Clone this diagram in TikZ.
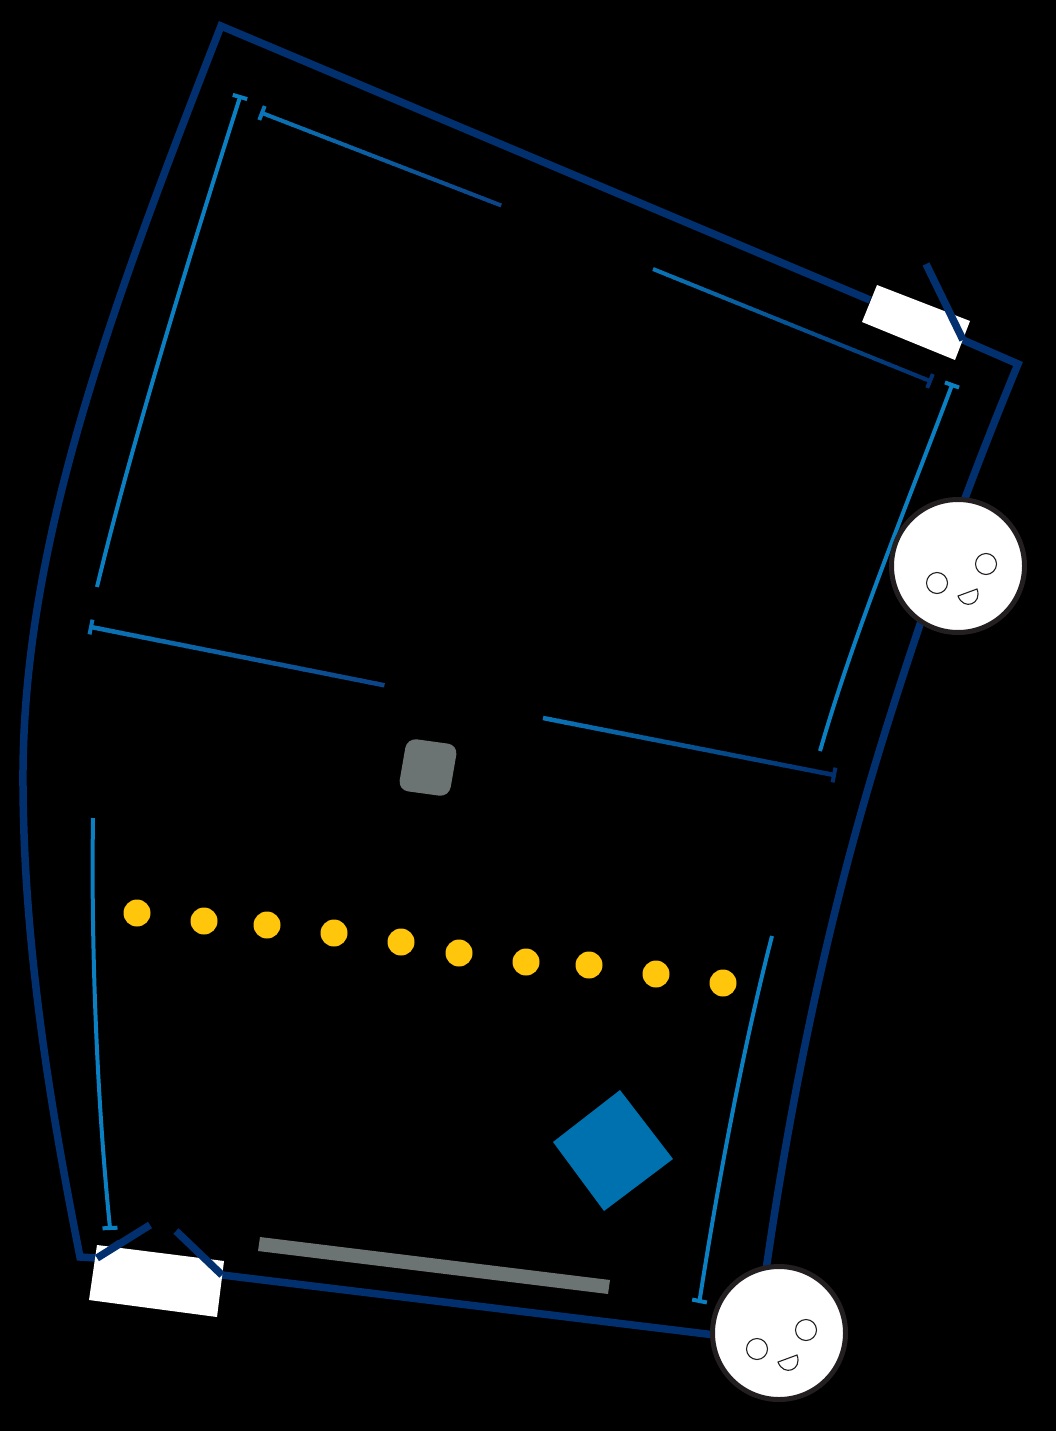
\documentclass[tikz,border=0pt]{standalone}
\usetikzlibrary{calc}
\definecolor{navy}{HTML}{02306F}
\definecolor{midnavy}{HTML}{0C4488}
\definecolor{midblue}{HTML}{0A74B6}
\definecolor{lightblue}{HTML}{0A80C2}
\definecolor{sqblue}{HTML}{0071AF}
\definecolor{greyc}{HTML}{6C7373}
\definecolor{yellowc}{HTML}{FFC60B}
\definecolor{ringc}{HTML}{231F20}
\tikzset{
  wall/.style={draw=navy,line width=7.5pt,line join=miter},
  swing/.style={draw=navy,line width=7.5pt,line cap=butt},
  doorleaf/.style={fill=white,draw=none},
  dot/.style={circle,fill=yellowc,draw=none,minimum size=27pt,inner sep=0pt},
  facering/.style={circle,fill=white,draw=ringc,line width=5pt,minimum size=133pt,inner sep=0pt},
  eye/.style={circle,fill=white,draw=ringc,line width=1.1pt,minimum size=21pt,inner sep=0pt},
  mouth/.style={fill=white,draw=ringc,line width=1.1pt},
  tickmark/.style={line width=4pt,line cap=butt},
  lightline/.style={draw=lightblue,line width=4pt,line cap=butt}
}
% start, end, start colour, end colour, line options
\newcommand{\gradbar}[5]{%
  \foreach \i in {0,...,39}{%
    \pgfmathsetmacro{\ta}{\i/40}%
    \pgfmathsetmacro{\tb}{(\i+1.2)/40}%
    \pgfmathtruncatemacro{\pc}{100-100*\i/39}%
    \draw[#5,color=#3!\pc!#4,line cap=butt] ($(#1)!\ta!(#2)$) -- ($(#1)!\tb!(#2)$);
  }}
\newcommand{\captick}[3]{% at, towards, colour
  \draw[tickmark,color=#3] ($(#1)!7.5pt!90:(#2)$) -- ($(#1)!7.5pt!-90:(#2)$);}
\begin{document}
\begin{tikzpicture}[x=1pt,y=-1pt]
\useasboundingbox (0,0) rectangle (1056,1431);
\fill[black] (0,0) rectangle (1056,1431);

% outer wall
\draw[wall] (870,300) -- (221,26)
  .. controls (110,310) and (25,540) .. (23,770)
  .. controls (22,950) and (55,1130) .. (80,1257) -- (97,1258) -- (120,1243);
\draw[wall] (963,340) -- (1018,364)
  .. controls (970,480) and (930,590) .. (892,710)
  .. controls (857,820) and (805,1000) .. (766,1270);
\draw[wall] (222,1275) -- (715,1335);

% door leaves
\fill[doorleaf] (877,285) -- (970,321) -- (955,360) -- (862,322) -- cycle;
\fill[doorleaf] (97,1245) -- (224,1261) -- (217,1317) -- (89,1300) -- cycle;
\draw[swing] (926,264) -- (963,340);
\draw[swing] (150,1225) -- (97,1258);
\draw[swing] (176,1231) -- (222,1275);

% inner lines
\coordinate (a1) at (97,587);   \coordinate (a2) at (240,97);
\coordinate (b1) at (262,113);  \coordinate (b2) at (500,205);
\coordinate (c1) at (653,269);  \coordinate (c2) at (930,381);
\coordinate (d1) at (820,751);  \coordinate (d2) at (952,385);
\coordinate (e1) at (91,627);   \coordinate (e2) at (383,685);
\coordinate (f1) at (543,718);  \coordinate (f2) at (834,775);
\coordinate (g1) at (93,818);   \coordinate (g2) at (110,1228);
\coordinate (h1) at (772,936);  \coordinate (h2) at (699.5,1301);

\draw[lightline] (a1) .. controls (130,450) and (185,270) .. (a2);
\captick{a2}{a1}{lightblue}
\gradbar{b1}{b2}{midblue}{midnavy}{line width=4pt}
\captick{b1}{b2}{midblue}
\gradbar{c1}{c2}{midblue}{navy}{line width=4pt}
\captick{c2}{c1}{navy}
\draw[lightline] (d1) .. controls (855,630) and (905,510) .. (d2);
\captick{d2}{d1}{lightblue}
\gradbar{e1}{e2}{midblue}{midnavy}{line width=4.5pt}
\captick{e1}{e2}{midblue}
\gradbar{f1}{f2}{midblue}{navy}{line width=4.5pt}
\captick{f2}{f1}{navy}
\draw[lightline] (g1) .. controls (91,950) and (97,1100) .. (g2);
\captick{g2}{g1}{lightblue}
\draw[lightline] (h1) .. controls (745,1040) and (720,1170) .. (h2);
\captick{h2}{h1}{lightblue}

% furniture
\fill[greyc,rounded corners=10pt] (407,738) -- (458,745) -- (449,797) -- (398,790) -- cycle;
\fill[sqblue] (620,1090) -- (673,1159) -- (604,1211) -- (553,1142) -- cycle;
\fill[greyc] (260,1237) -- (610,1280) -- (608,1294) -- (258,1251) -- cycle;

% dots
\foreach \x/\y [count=\n] in {137/913,204/921,267/925,334/933,401/942,459/953,526/962,589/965,656/974,723/983}
  \node[dot] (dot\n) at (\x,\y) {};

% faces
\node[facering] (faceA) at (958,566) {};
\node[eye] (faceAeyeL) at (937,583) {};
\node[eye] (faceAeyeR) at (986,564) {};
\draw[mouth] (958,596) -- (977,589) .. controls (982.6,604) and (963.6,611) .. (958,596) -- cycle;
\node[facering] (faceB) at (779,1333) {};
\node[eye] (faceBeyeL) at (757,1349) {};
\node[eye] (faceBeyeR) at (806,1330) {};
\draw[mouth] (778,1362) -- (797,1355) .. controls (802.6,1370) and (783.6,1377) .. (778,1362) -- cycle;
\end{tikzpicture}
\end{document}
